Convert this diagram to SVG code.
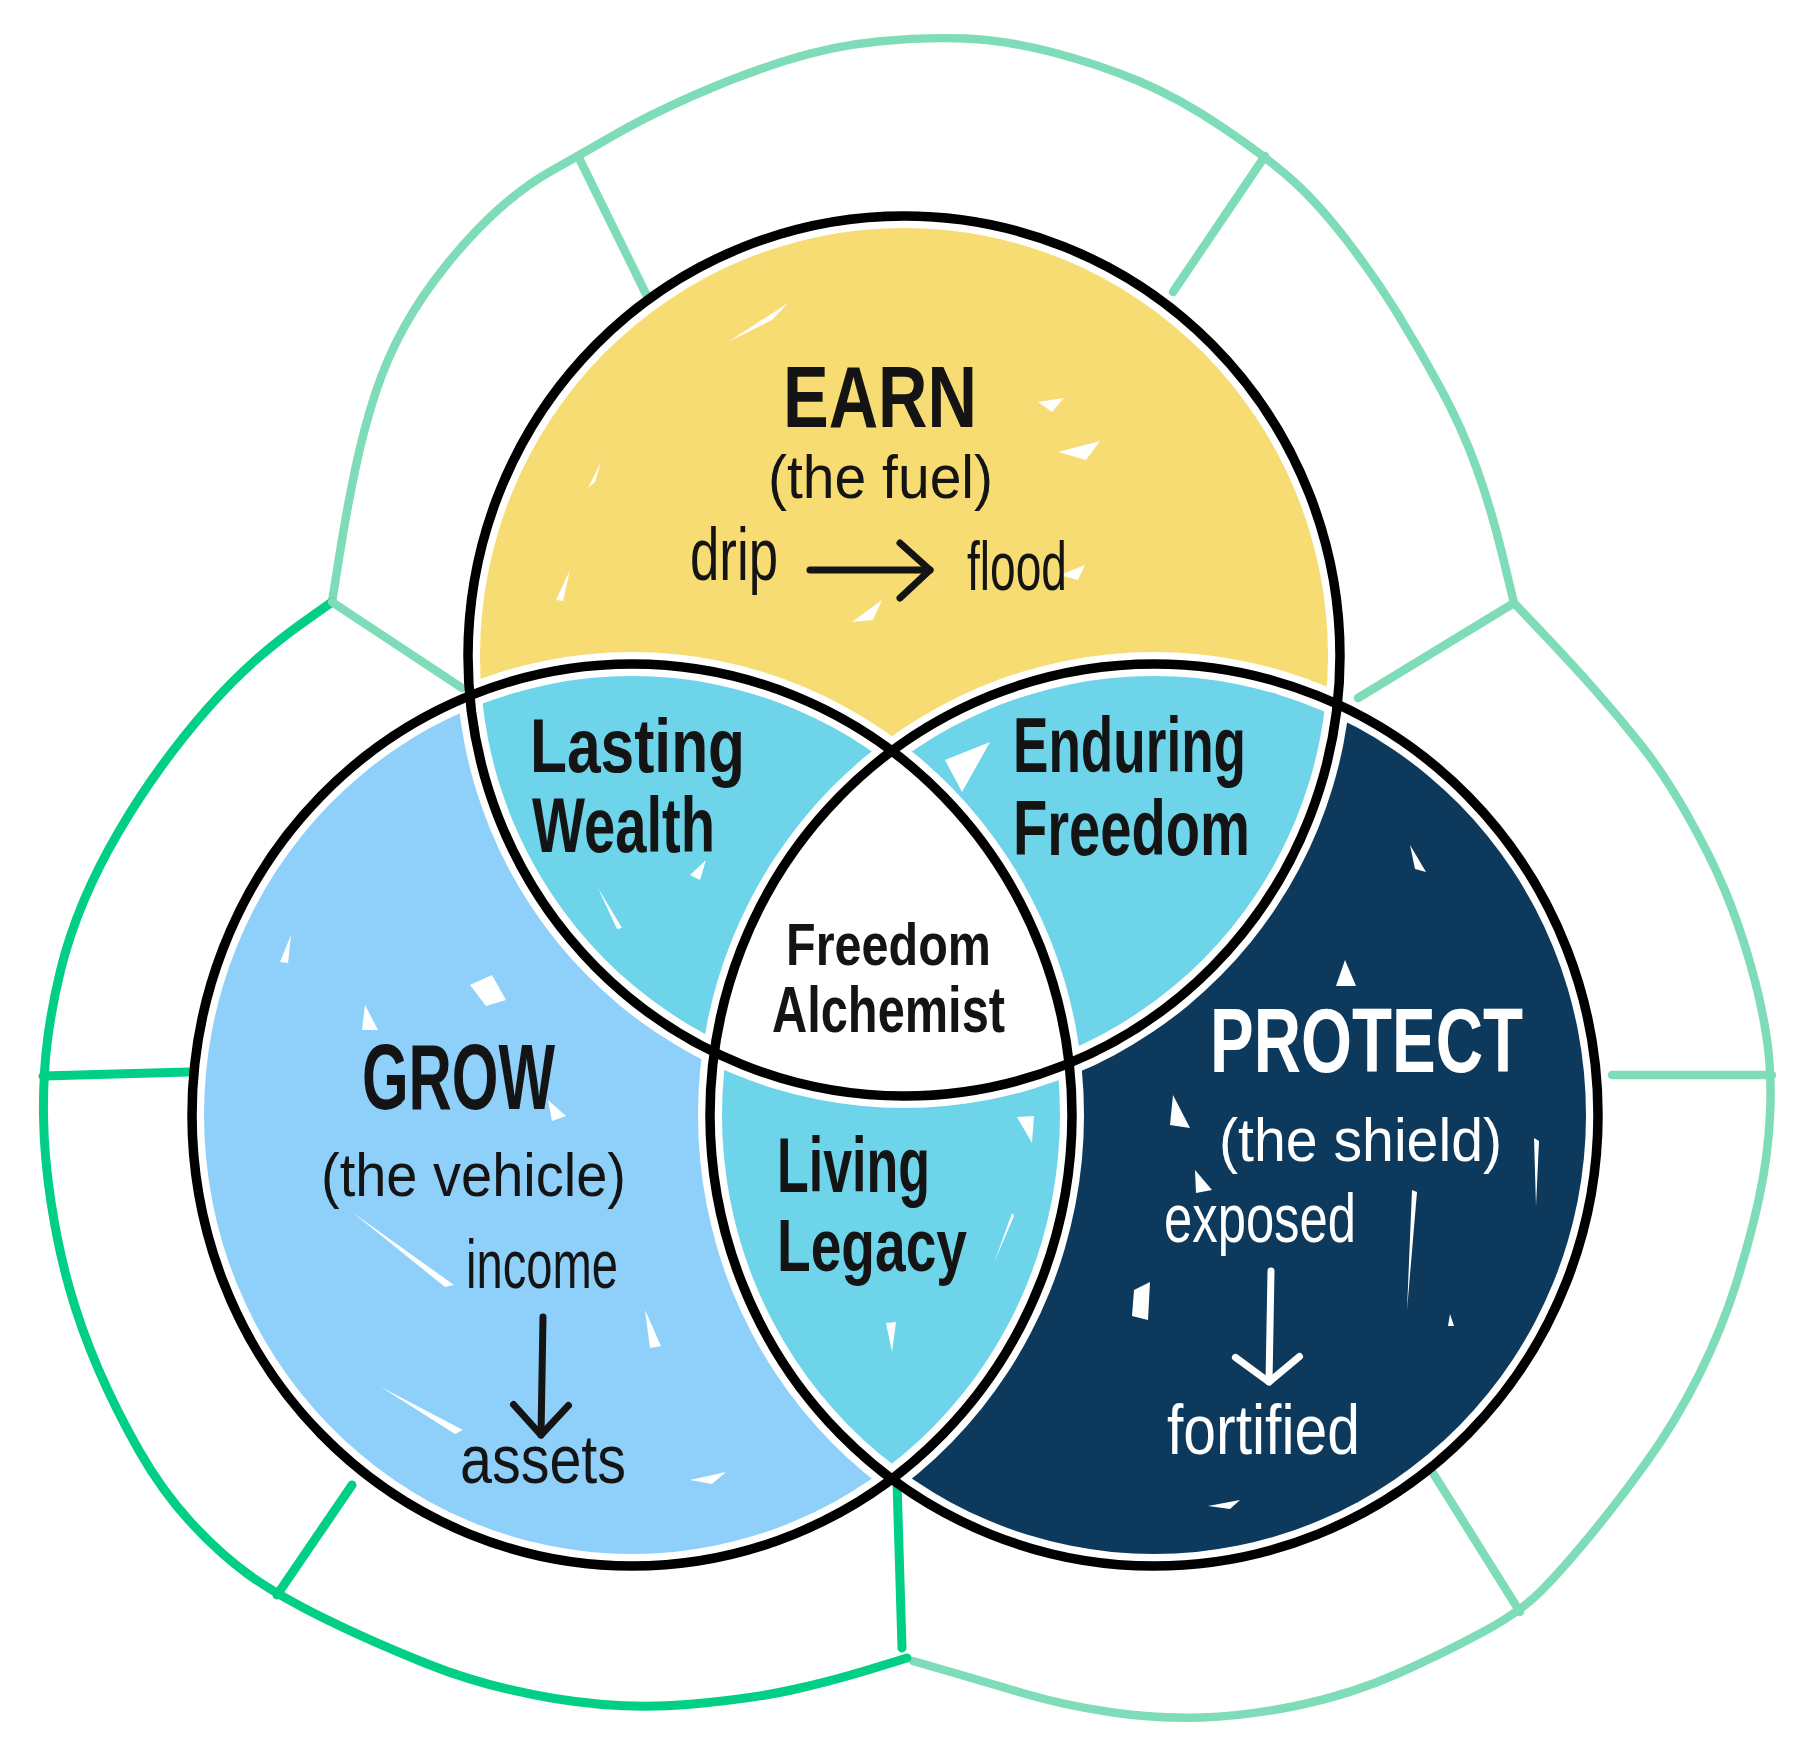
<svg xmlns="http://www.w3.org/2000/svg" xmlns:xlink="http://www.w3.org/1999/xlink" width="1812" height="1752" viewBox="0 0 1812 1752">
<style>
.frame-lt{fill:none;stroke:#7fdcb9;stroke-width:8.5;stroke-linecap:round;stroke-linejoin:round}
.frame-br{fill:none;stroke:#00cf85;stroke-width:9;stroke-linecap:round;stroke-linejoin:round}
.outline{fill:none;stroke:#000;stroke-width:9.5}
.scratch{fill:#fff}
.t{font-family:'Liberation Sans Narrow','Liberation Sans','DejaVu Sans',sans-serif;fill:#141414}
.w{fill:#fff}
.b{font-weight:700}
.arrow{fill:none;stroke:#141414;stroke-width:7;stroke-linecap:round}
.arrow-w{fill:none;stroke:#fff;stroke-width:7;stroke-linecap:round}
</style>
<defs>
<ellipse id="Ti" cx="904" cy="656" rx="424" ry="428"/>
<ellipse id="Li" cx="632" cy="1115" rx="428" ry="439"/>
<ellipse id="Ri" cx="1154" cy="1115" rx="432" ry="439"/>
<ellipse id="Te" cx="904" cy="656" rx="448" ry="452"/>
<ellipse id="Le" cx="632" cy="1115" rx="452" ry="463"/>
<ellipse id="Re" cx="1154" cy="1115" rx="456" ry="463"/>
<clipPath id="cTi"><use xlink:href="#Ti"/></clipPath>
<clipPath id="cLi"><use xlink:href="#Li"/></clipPath>
<mask id="mY" maskUnits="userSpaceOnUse" x="0" y="0" width="1812" height="1752"><use xlink:href="#Ti" fill="#fff"/><use xlink:href="#Le" fill="#000"/><use xlink:href="#Re" fill="#000"/></mask>
<mask id="mB" maskUnits="userSpaceOnUse" x="0" y="0" width="1812" height="1752"><use xlink:href="#Li" fill="#fff"/><use xlink:href="#Te" fill="#000"/><use xlink:href="#Re" fill="#000"/></mask>
<mask id="mN" maskUnits="userSpaceOnUse" x="0" y="0" width="1812" height="1752"><use xlink:href="#Ri" fill="#fff"/><use xlink:href="#Te" fill="#000"/><use xlink:href="#Le" fill="#000"/></mask>
<mask id="mTL" maskUnits="userSpaceOnUse" x="0" y="0" width="1812" height="1752"><g clip-path="url(#cTi)"><use xlink:href="#Li" fill="#fff"/></g><use xlink:href="#Re" fill="#000"/></mask>
<mask id="mTR" maskUnits="userSpaceOnUse" x="0" y="0" width="1812" height="1752"><g clip-path="url(#cTi)"><use xlink:href="#Ri" fill="#fff"/></g><use xlink:href="#Le" fill="#000"/></mask>
<mask id="mLR" maskUnits="userSpaceOnUse" x="0" y="0" width="1812" height="1752"><g clip-path="url(#cLi)"><use xlink:href="#Ri" fill="#fff"/></g><use xlink:href="#Te" fill="#000"/></mask>
<marker id="head" viewBox="-40 -40 50 80" refX="0" refY="0" markerWidth="50" markerHeight="80" markerUnits="userSpaceOnUse" orient="auto" overflow="visible"><path d="M-30,-27 L0,0 L-30,28" fill="none" stroke="#141414" stroke-width="7" stroke-linecap="round" stroke-linejoin="round"/></marker>
<marker id="head-w" viewBox="-40 -40 50 80" refX="0" refY="0" markerWidth="50" markerHeight="80" markerUnits="userSpaceOnUse" orient="auto" overflow="visible"><path d="M-26,-30 L0,0 L-24,34" fill="none" stroke="#fff" stroke-width="7" stroke-linecap="round" stroke-linejoin="round"/></marker>
</defs>
<rect width="1812" height="1752" fill="#fff"/>

<g id="frame">
<path class="frame-lt" d="M332,602 L339.5,555 Q347,508 355.5,468 Q364,428 375.5,393 Q387,358 404.5,326.5 Q422,295 448,263 Q474,231 500,208 Q526,185 552,170.5 Q578,156 612.5,136 Q647,116 693.5,95.5 Q740,75 786,60.5 Q832,46 878,41.5 Q924,37 964.5,38.5 Q1005,40 1051.5,52 Q1098,64 1138.5,81 Q1179,98 1222,127 Q1265,156 1291,179 Q1317,202 1346,239.5 Q1375,277 1398,314.5 Q1421,352 1441.5,390 Q1462,428 1476.5,468 Q1491,508 1502.5,555.5 L1514,603"/>
<path class="frame-lt" d="M1514,603 L1543,633.5 Q1572,664 1595,690 Q1618,716 1641,745 Q1664,774 1687,814.5 Q1710,855 1724.5,889.5 Q1739,924 1750.5,964.5 Q1762,1005 1767,1040 Q1772,1075 1770,1115.5 Q1768,1156 1759.5,1196 Q1751,1236 1736.5,1282.5 Q1722,1329 1699,1375 Q1676,1421 1647,1461.5 Q1618,1502 1589,1537 Q1560,1572 1540,1592 Q1520,1612 1482,1632.5 Q1444,1653 1398,1673.5 Q1352,1694 1300,1705 Q1248,1716 1202,1717.5 Q1156,1719 1109.5,1712 Q1063,1705 1022.5,1693 Q982,1681 947.5,1671 L913,1661"/>
<path class="frame-br" d="M332,602 L304.5,621.5 Q277,641 254,661.5 Q231,682 208,708 Q185,734 162,765.5 Q139,797 118.5,832 Q98,867 83.5,901.5 Q69,936 60.5,970.5 Q52,1005 47.5,1040 Q43,1075 43.5,1115.5 Q44,1156 51,1202 Q58,1248 69.5,1288.5 Q81,1329 98.5,1369.5 Q116,1410 139,1450.5 Q162,1491 191,1522.5 Q220,1554 248.5,1574.5 Q277,1595 323.5,1618 Q370,1641 427.5,1664 Q485,1687 554.5,1698.5 Q624,1710 687.5,1704.5 Q751,1699 791.5,1690 Q832,1681 869.5,1669.5 L907,1658"/>
<line class="frame-lt" x1="578" y1="156" x2="647" y2="296"/>
<line class="frame-lt" x1="1265" y1="156" x2="1173" y2="292"/>
<line class="frame-lt" x1="332" y1="602" x2="462" y2="688"/>
<line class="frame-lt" x1="1514" y1="603" x2="1358" y2="698"/>
<line class="frame-br" x1="43" y1="1076" x2="188" y2="1072"/>
<line class="frame-lt" x1="1772" y1="1075" x2="1612" y2="1075"/>
<line class="frame-br" x1="352" y1="1485" x2="277" y2="1595"/>
<line class="frame-lt" x1="1433" y1="1473" x2="1520" y2="1612"/>
<line class="frame-br" x1="897" y1="1482" x2="902" y2="1648"/>
</g>

<g id="fills">
<rect width="1812" height="1752" fill="#f6dc72" mask="url(#mY)"/>
<rect width="1812" height="1752" fill="#8fd0fa" mask="url(#mB)"/>
<rect width="1812" height="1752" fill="#0d3a5c" mask="url(#mN)"/>
<rect width="1812" height="1752" fill="#6dd4ea" mask="url(#mTL)"/>
<rect width="1812" height="1752" fill="#6dd4ea" mask="url(#mTR)"/>
<rect width="1812" height="1752" fill="#6dd4ea" mask="url(#mLR)"/>
</g>

<g id="scratches">
<polygon class="scratch" points="728,342 788,303 772,320"/>
<polygon class="scratch" points="1038,402 1064,398 1052,412"/>
<polygon class="scratch" points="1058,452 1100,441 1086,460"/>
<polygon class="scratch" points="556,600 570,570 563,601"/>
<polygon class="scratch" points="588,488 601,462 595,482"/>
<polygon class="scratch" points="852,622 882,600 873,620"/>
<polygon class="scratch" points="1060,575 1085,565 1078,580"/>
<polygon class="scratch" points="470,985 492,975 506,1000 486,1006"/>
<polygon class="scratch" points="365,1005 378,1030 362,1030"/>
<polygon class="scratch" points="352,1212 454,1285 445,1287"/>
<polygon class="scratch" points="548,1100 566,1116 552,1121"/>
<polygon class="scratch" points="381,1387 463,1430 455,1434"/>
<polygon class="scratch" points="645,1310 661,1346 650,1348"/>
<polygon class="scratch" points="280,962 291,935 288,963"/>
<polygon class="scratch" points="690,1480 726,1472 712,1484"/>
<polygon class="scratch" points="1173,1095 1190,1128 1170,1125"/>
<polygon class="scratch" points="1195,1170 1212,1190 1196,1193"/>
<polygon class="scratch" points="1134,1290 1150,1282 1148,1320 1132,1316"/>
<polygon class="scratch" points="1410,845 1426,872 1415,869"/>
<polygon class="scratch" points="1345,960 1356,986 1336,986"/>
<polygon class="scratch" points="1412,1190 1417,1192 1407,1310"/>
<polygon class="scratch" points="1534,1138 1539,1141 1536,1206"/>
<polygon class="scratch" points="1450,1314 1454,1326 1448,1326"/>
<polygon class="scratch" points="1208,1506 1240,1500 1230,1509"/>
<polygon class="scratch" points="598,888 622,928 617,929"/>
<polygon class="scratch" points="690,875 706,860 700,880"/>
<polygon class="scratch" points="945,760 990,742 962,792"/>
<polygon class="scratch" points="1030,900 1040,935 1034,936"/>
<polygon class="scratch" points="1017,1117 1034,1116 1032,1143"/>
<polygon class="scratch" points="886,1323 896,1322 892,1352"/>
<polygon class="scratch" points="1012,1213 1014,1216 994,1263"/>
</g>

<g id="outlines">
<ellipse class="outline" cx="904" cy="656" rx="436" ry="440"/>
<ellipse class="outline" cx="632" cy="1115" rx="440" ry="451"/>
<ellipse class="outline" cx="1154" cy="1115" rx="444" ry="451"/>
</g>

<g id="node-earn">
<text class="t b" x="783" y="427" font-size="88" textLength="194" lengthAdjust="spacingAndGlyphs">EARN</text>
<text class="t" x="768" y="498" font-size="62" textLength="225" lengthAdjust="spacingAndGlyphs">(the fuel)</text>
<text class="t" x="690" y="580" font-size="74" textLength="88" lengthAdjust="spacingAndGlyphs">drip</text>
<text class="t" x="967" y="590" font-size="68" textLength="100" lengthAdjust="spacingAndGlyphs">flood</text>
</g>

<g id="node-grow">
<text class="t b" x="362" y="1109" font-size="92" textLength="193" lengthAdjust="spacingAndGlyphs">GROW</text>
<text class="t" x="321" y="1196" font-size="62" textLength="305" lengthAdjust="spacingAndGlyphs">(the vehicle)</text>
<text class="t" x="466" y="1288" font-size="68" textLength="152" lengthAdjust="spacingAndGlyphs">income</text>
<text class="t" x="460" y="1483" font-size="68" textLength="166" lengthAdjust="spacingAndGlyphs">assets</text>
</g>

<g id="node-protect">
<text class="t b w" x="1210" y="1072" font-size="90" textLength="313" lengthAdjust="spacingAndGlyphs">PROTECT</text>
<text class="t w" x="1219" y="1161" font-size="62" textLength="283" lengthAdjust="spacingAndGlyphs">(the shield)</text>
<text class="t w" x="1164" y="1242" font-size="68" textLength="192" lengthAdjust="spacingAndGlyphs">exposed</text>
<text class="t w" x="1167" y="1454" font-size="70" textLength="193" lengthAdjust="spacingAndGlyphs">fortified</text>
</g>

<g id="node-lasting-wealth">
<text class="t b" x="530" y="772" font-size="76" textLength="215" lengthAdjust="spacingAndGlyphs">Lasting</text>
<text class="t b" x="532" y="852" font-size="78" textLength="183" lengthAdjust="spacingAndGlyphs">Wealth</text>
</g>

<g id="node-enduring-freedom">
<text class="t b" x="1013" y="772" font-size="78" textLength="233" lengthAdjust="spacingAndGlyphs">Enduring</text>
<text class="t b" x="1013" y="855" font-size="78" textLength="237" lengthAdjust="spacingAndGlyphs">Freedom</text>
</g>

<g id="node-living-legacy">
<text class="t b" x="777" y="1192" font-size="78" textLength="153" lengthAdjust="spacingAndGlyphs">Living</text>
<text class="t b" x="777" y="1271" font-size="74" textLength="190" lengthAdjust="spacingAndGlyphs">Legacy</text>
</g>

<g id="node-freedom-alchemist">
<text class="t b" x="786" y="965" font-size="60" textLength="205" lengthAdjust="spacingAndGlyphs">Freedom</text>
<text class="t b" x="772" y="1032" font-size="64" textLength="233" lengthAdjust="spacingAndGlyphs">Alchemist</text>
</g>

<g id="connectors">
<line class="arrow" x1="810" y1="570" x2="930" y2="570" marker-end="url(#head)"/>
<line class="arrow" x1="543" y1="1317" x2="541" y2="1435" marker-end="url(#head)"/>
<line class="arrow-w" x1="1271" y1="1271" x2="1269" y2="1382" marker-end="url(#head-w)"/>
</g>
</svg>
